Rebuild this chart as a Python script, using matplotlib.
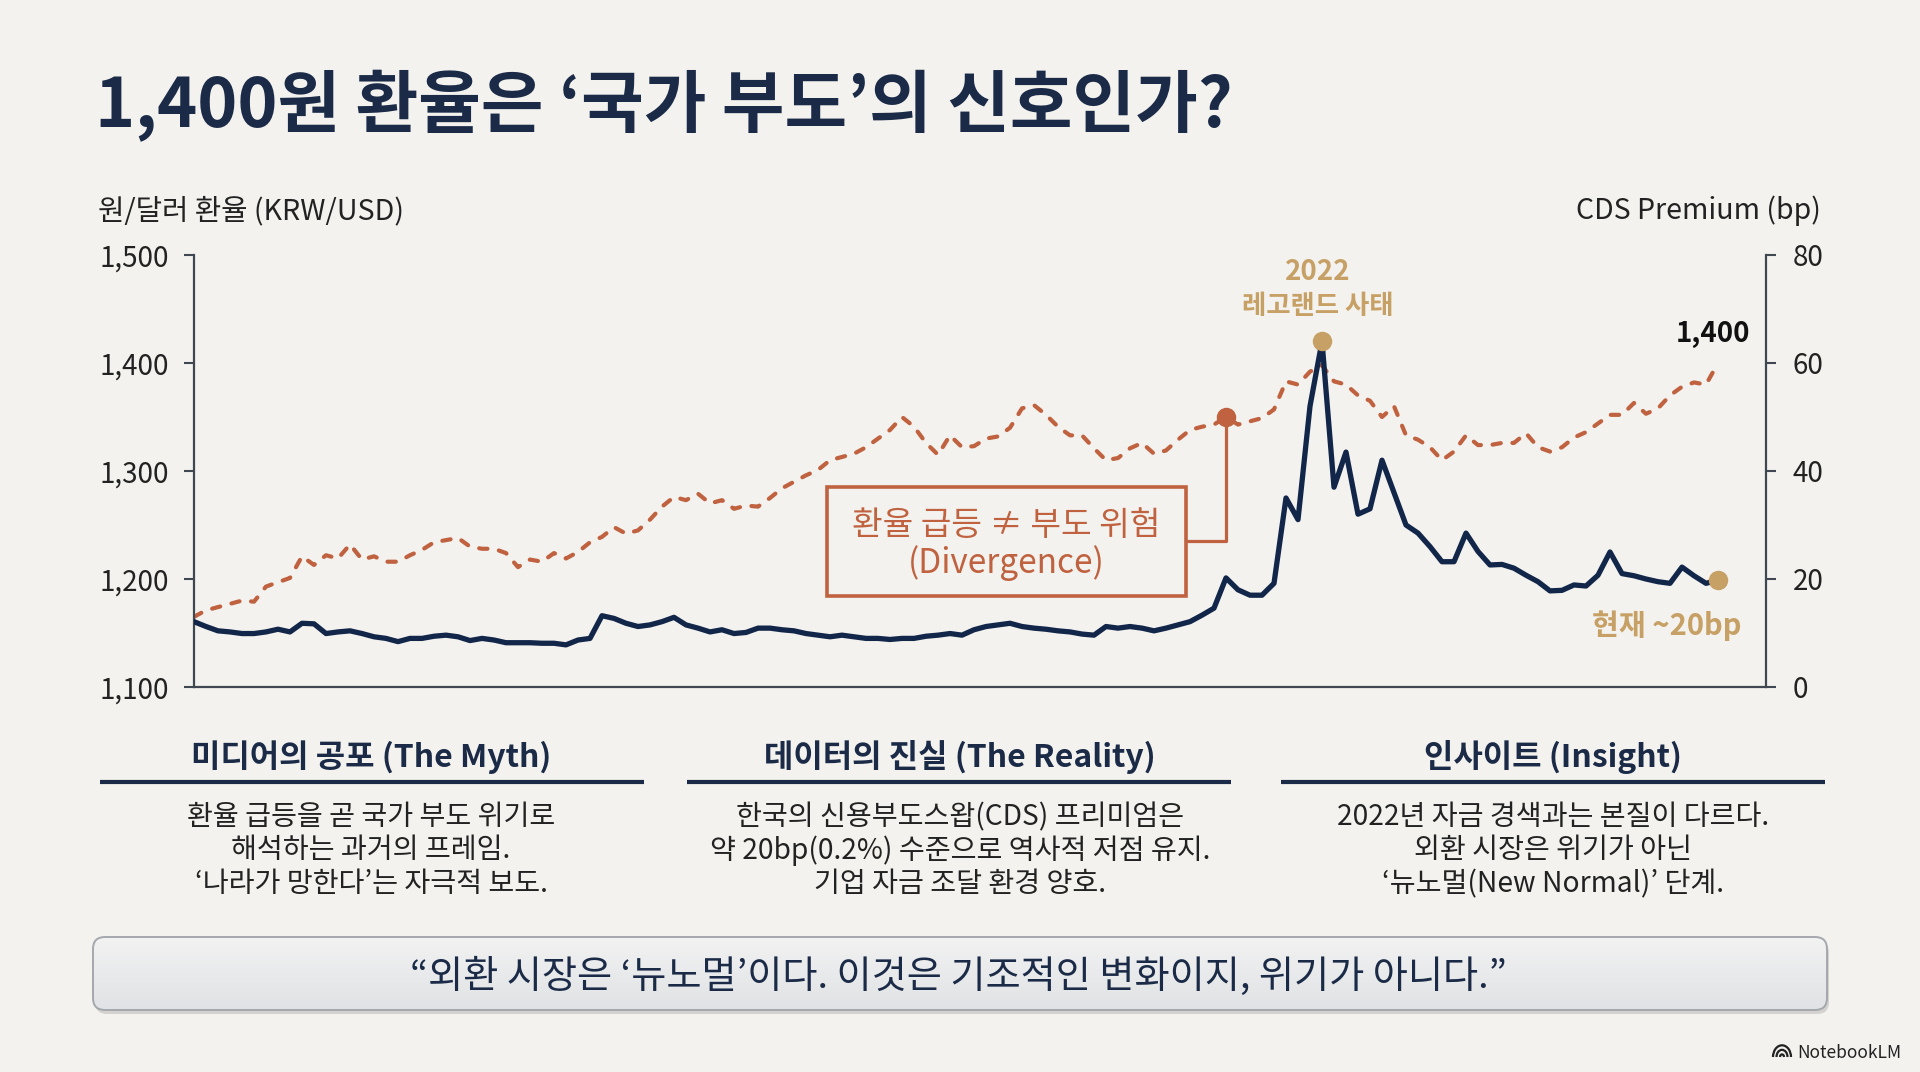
import numpy as np
import matplotlib.pyplot as plt
from matplotlib.colors import LinearSegmentedColormap
from matplotlib.patches import FancyBboxPatch, Rectangle, Arc

plt.rcParams['font.family'] = ['Noto Sans CJK KR', 'DejaVu Sans']

BG = '#f3f2ee'
NAVY = '#12264a'
INK = '#1b2b47'
RUST = '#c0623f'
GOLD = '#c6a064'
SPINE = '#3f4753'
TXT = '#222222'

# KRW/USD (left axis) at even steps
krw = [1165, 1171, 1174, 1177, 1180, 1179, 1193, 1197, 1201, 1221,
       1213, 1222, 1219, 1232, 1218, 1221, 1216, 1216, 1222, 1227,
       1234, 1236, 1238, 1230, 1228, 1228, 1224, 1211, 1218, 1216,
       1224, 1219, 1225, 1234, 1239, 1248, 1242, 1245, 1255, 1267,
       1276, 1273, 1279, 1270, 1273, 1265, 1268, 1267, 1275, 1284,
       1290, 1296, 1301, 1310, 1313, 1316, 1322, 1330, 1338, 1350,
       1341, 1326, 1315, 1333, 1322, 1323, 1330, 1332, 1340, 1358,
       1361, 1352, 1341, 1333, 1333, 1321, 1310, 1312, 1321, 1326,
       1316, 1319, 1329, 1338, 1341, 1343, 1350, 1343, 1346, 1349,
       1357, 1383, 1380, 1392, 1398, 1383, 1380, 1370, 1365, 1350,
       1360, 1333, 1329, 1322, 1310, 1318, 1333, 1324, 1324, 1326,
       1326, 1335, 1322, 1318, 1322, 1331, 1336, 1344, 1352, 1352,
       1363, 1353, 1358, 1370, 1378, 1382, 1380, 1400]

# CDS premium in bp (right axis)
cds = [12.1, 11.2, 10.4, 10.2, 9.9, 9.9, 10.2, 10.7, 10.2, 11.8,
       11.7, 9.9, 10.2, 10.4, 9.9, 9.3, 9.0, 8.4, 9.0, 9.0,
       9.4, 9.6, 9.3, 8.6, 9.0, 8.7, 8.2, 8.2, 8.2, 8.1,
       8.1, 7.8, 8.7, 9.0, 13.2, 12.7, 11.8, 11.2, 11.5, 12.1,
       12.9, 11.5, 10.9, 10.2, 10.6, 9.9, 10.1, 10.9, 10.9, 10.6,
       10.4, 9.9, 9.6, 9.3, 9.6, 9.3, 9.0, 9.0, 8.8, 9.0,
       9.0, 9.4, 9.6, 9.9, 9.6, 10.6, 11.2, 11.5, 11.8, 11.2,
       10.9, 10.7, 10.4, 10.2, 9.8, 9.6, 11.2, 10.9, 11.2, 10.9,
       10.4, 10.9, 11.5, 12.1, 13.3, 14.6, 20.2, 18.0, 17.0, 17.0,
       19.2, 35.0, 31.0, 52.0, 64.0, 37.0, 43.5, 32.0, 33.0, 42.0,
       36.0, 30.0, 28.5, 26.0, 23.2, 23.2, 28.5, 25.1, 22.6, 22.7,
       22.0, 20.7, 19.5, 17.8, 17.9, 18.9, 18.7, 20.7, 25.0, 21.0,
       20.6, 20.0, 19.5, 19.2, 22.2, 20.6, 19.2, 19.8]

divergence_idx = 86

left_ticks = [1100, 1200, 1300, 1400, 1500]
right_ticks = [0, 20, 40, 60, 80]

title = '1,400원 환율은 ‘국가 부도’의 신호인가?'
left_label = '원/달러 환율 (KRW/USD)'
right_label = 'CDS Premium (bp)'
box_lines = ['환율 급등 ≠ 부도 위험', '(Divergence)']
peak_lines = ['2022', '레고랜드 사태']
end_krw_label = '1,400'
end_cds_label = '현재 ~20bp'

headers = ['미디어의 공포 (The Myth)', '데이터의 진실 (The Reality)', '인사이트 (Insight)']
bodies = [
    ['환율 급등을 곧 국가 부도 위기로', '해석하는 과거의 프레임.', '‘나라가 망한다’는 자극적 보도.'],
    ['한국의 신용부도스왑(CDS) 프리미엄은', '약 20bp(0.2%) 수준으로 역사적 저점 유지.', '기업 자금 조달 환경 양호.'],
    ['2022년 자금 경색과는 본질이 다르다.', '외환 시장은 위기가 아닌', '‘뉴노멀(New Normal)’ 단계.'],
]
quote = '“외환 시장은 ‘뉴노멀’이다. 이것은 기조적인 변화이지, 위기가 아니다.”'

W, H = 1920, 1072
fig = plt.figure(figsize=(19.2, 10.72), dpi=100, facecolor=BG)

# pixel layout layer
lay = fig.add_axes([0, 0, 1, 1])
lay.axis('off')

# chart
ax = fig.add_axes([194 / W, 1 - 687 / H, (1766 - 194) / W, (687 - 255) / H])
ax.patch.set_visible(False)
ax2 = ax.twinx()
x = np.arange(len(krw))

ax.plot(x, krw, color=RUST, lw=3.0, dashes=(2.0, 2.8), dash_capstyle='round', zorder=2)
ax2.plot(x, cds, color=NAVY, lw=3.8, solid_joinstyle='round', zorder=2)

ax.set_xlim(0, 131)
ax.set_ylim(1100, 1500)
ax2.set_ylim(0, 80)
ax.set_xticks([])

ax.set_yticks(left_ticks, [f'{v:,}' for v in left_ticks])
ax2.set_yticks(right_ticks, [str(v) for v in right_ticks])
ax.tick_params(axis='y', length=7, width=1.5, color=SPINE, pad=11, labelsize=20, labelcolor=TXT)
ax2.tick_params(axis='y', length=7, width=1.5, color=SPINE, pad=12, labelsize=20, labelcolor=TXT)

for s in ['top', 'right']:
    ax.spines[s].set_visible(False)
for s in ['top', 'left', 'bottom']:
    ax2.spines[s].set_visible(False)
for sp in [ax.spines['left'], ax.spines['bottom'], ax2.spines['right']]:
    sp.set_color(SPINE)
    sp.set_linewidth(1.6)

# markers
pk = int(np.argmax(cds))
ax2.plot(pk, cds[pk], 'o', ms=13, color=GOLD, zorder=5)
ax2.plot(x[-1], cds[-1], 'o', ms=13, color=GOLD, zorder=5)
ax.plot(divergence_idx, krw[divergence_idx], 'o', ms=13, color=RUST, zorder=5)

# divergence box + connector
lay.add_patch(Rectangle((827, 487), 359, 109, fc=BG, ec=RUST, lw=2.6))
lay.text(1006, 535, box_lines[0], ha='center', va='baseline', fontsize=24, color=RUST)
lay.text(1006, 573, box_lines[1], ha='center', va='baseline', fontsize=24, color=RUST)
ax.annotate('', xy=(divergence_idx, krw[divergence_idx]), xycoords='data',
            xytext=(1186, 541), textcoords=lay.transData,
            arrowprops=dict(arrowstyle='-', color=RUST, lw=2.3, shrinkA=0, shrinkB=0,
                            connectionstyle='angle,angleA=0,angleB=90,rad=0'))

# chart labels
lay.text(95, 127, title, ha='left', va='baseline', fontsize=49, fontweight='bold', color=INK)
lay.text(98, 219, left_label, ha='left', va='baseline', fontsize=20.7, color=TXT)
lay.text(1821, 219, right_label, ha='right', va='baseline', fontsize=20.5, color=TXT)
lay.text(1318, 280, peak_lines[0], ha='center', va='baseline', fontsize=20, fontweight='bold', color=GOLD)
lay.text(1318, 314, peak_lines[1], ha='center', va='baseline', fontsize=19, fontweight='bold', color=GOLD)
lay.text(1713, 342, end_krw_label, ha='center', va='baseline', fontsize=20, fontweight='bold', color='#111111')
lay.text(1667, 635, end_cds_label, ha='center', va='baseline', fontsize=21, fontweight='bold', color=GOLD)

# three columns
col_cx = [371, 960, 1553]
col_x0 = [100, 687, 1281]
col_w = 544
for cx, x0, head, body in zip(col_cx, col_x0, headers, bodies):
    lay.text(cx, 767, head, ha='center', va='baseline', fontsize=23, fontweight='bold', color=INK)
    lay.plot([x0, x0 + col_w], [782, 782], color=INK, lw=3.0, solid_capstyle='butt')
    for i, line in enumerate(body):
        lay.text(cx, 825 + 33.5 * i, line, ha='center', va='baseline', fontsize=20.3, color=TXT)

# quote box
bx0, by0, bx1, by1 = 93, 937, 1827, 1010
lay.add_patch(FancyBboxPatch((bx0 + 2, by0 + 4), bx1 - bx0, by1 - by0,
                             boxstyle='round,pad=0,rounding_size=12', fc='#b9b9b9', ec='none', alpha=0.55))
qbox = FancyBboxPatch((bx0, by0), bx1 - bx0, by1 - by0,
                      boxstyle='round,pad=0,rounding_size=12', fc='#e8e9eb', ec='none')
lay.add_patch(qbox)
grad = np.linspace(0, 1, 64).reshape(-1, 1)
img = lay.imshow(grad, extent=[bx0, bx1, by1, by0], aspect='auto', zorder=1.5,
                 cmap=LinearSegmentedColormap.from_list('qb', ['#f2f2f2', '#e0e2e5']))
img.set_clip_path(qbox)
lay.add_patch(FancyBboxPatch((bx0, by0), bx1 - bx0, by1 - by0,
                             boxstyle='round,pad=0,rounding_size=12', fc='none', ec='#a4a8ad', lw=1.4, zorder=1.6))
lay.text(958, 988, quote, ha='center', va='baseline', fontsize=27.5, fontweight='medium', color=INK, zorder=3)

# NotebookLM mark
for wd in [18, 11, 4]:
    lay.add_patch(Arc((1782, 1057), wd, wd * 1.3, theta1=180, theta2=360, color='#222222', lw=1.6))
lay.text(1797, 1058, 'NotebookLM', ha='left', va='baseline', fontsize=12.5, color='#222222')

lay.set_xlim(0, W)
lay.set_ylim(H, 0)

fig.savefig('out.png', dpi=100, facecolor=BG)
